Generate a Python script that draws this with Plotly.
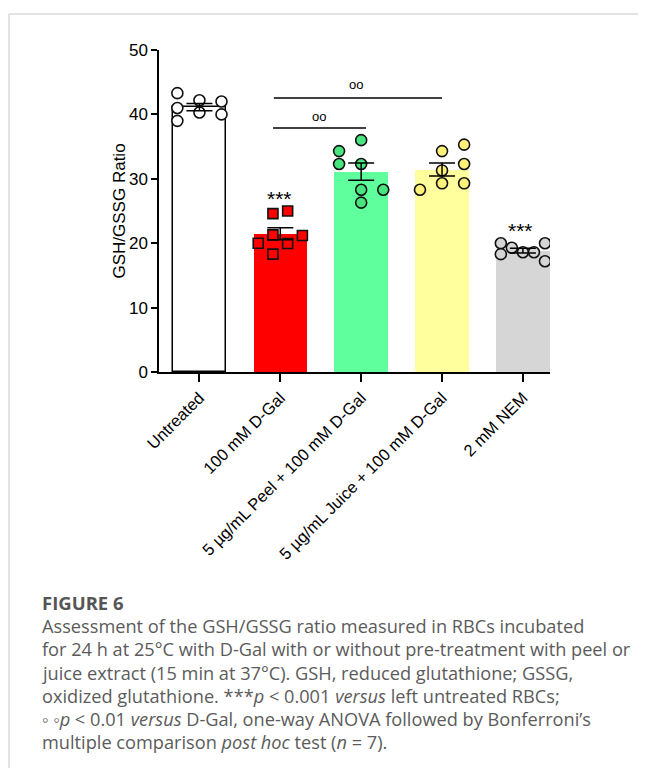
import plotly.graph_objects as go
import numpy as np

# ---- data ----
categories = ["Untreated", "100 mM D-Gal", "5 µg/mL Peel + 100 mM D-Gal",
              "5 µg/mL Juice + 100 mM D-Gal", "2 mM NEM"]
untreated = [43.3, 41.0, 39.0, 42.2, 40.3, 42.0, 40.0]
dgal = [24.6, 25.0, 21.3, 21.2, 20.0, 19.95, 18.3]
peel = [34.3, 36.0, 32.3, 32.3, 28.3, 28.3, 26.3]
juice = [34.3, 35.3, 31.3, 32.3, 28.3, 29.3, 29.3]
nem = [20.0, 18.3, 19.3, 18.6, 18.6, 20.0, 17.2]
y_ticks = [0, 10, 20, 30, 40, 50]

groups = [untreated, dgal, peel, juice, nem]
# beeswarm slot indices (horizontal layout of points)
slots = [[-6, -6, -6, 0, 0, 6, 6],
         [-2, 2, -2, 6, -6, 2, -2],
         [-6, 0, -6, 0, 0, 6, 0],
         [0, 6, 0, 6, -6, 0, 6],
         [-6, -6, -3, 0, 3, 6, 6]]
SLOT = 0.0455

bar_colors = ["#FFFFFF", "#FF0000", "#5EFF9C", "#FFFF9E", "#D6D6D6"]
pt_colors = ["#FFFFFF", "#FF0000", "#48E47E", "#FFF27A", "#D6D6D6"]
symbols = ["circle", "square", "circle", "circle", "circle"]

means = [float(np.mean(g)) for g in groups]
sems = [float(np.std(g, ddof=1) / np.sqrt(len(g))) for g in groups]
xs = list(range(len(categories)))

fig = go.Figure()
fig.add_trace(go.Bar(
    x=xs, y=means, width=0.66,
    marker=dict(color=bar_colors, line=dict(color="black", width=[1.5, 0, 0, 0, 0])),
    showlegend=False, hoverinfo="skip"))

for i, g in enumerate(groups):
    fig.add_trace(go.Scatter(
        x=[i + s * SLOT for s in slots[i]], y=g, mode="markers",
        marker=dict(symbol=symbols[i], size=11 if symbols[i] == "circle" else 10,
                    color=pt_colors[i], line=dict(color="#111111", width=1.6)),
        showlegend=False))

fig.add_trace(go.Scatter(
    x=xs, y=means, mode="markers", marker=dict(size=0.1, color="rgba(0,0,0,0)"),
    error_y=dict(type="data", array=sems, visible=True, color="black",
                 thickness=1.5, width=13),
    showlegend=False))

# ---- geometry helpers (page pixels -> paper); page has an 8px body margin ----
OFF = 8
W, H = 646 - 2 * OFF, 776 - 2 * OFF
L, T = 159 - OFF, 50 - OFF
PW, PH = 391, 322
R, B = W - L - PW, H - T - PH


def px(x):
    return (x - OFF - L) / PW


def py(y):
    return (OFF + T + PH - y) / PH


AX = "Liberation Sans, Arial"
anns = []
# significance markers
anns.append(dict(x=0.985, y=26.9, xref="x", yref="y", text="***", showarrow=False,
                 font=dict(family=AX, size=21, color="black")))
anns.append(dict(x=3.97, y=22.0, xref="x", yref="y", text="***", showarrow=False,
                 font=dict(family=AX, size=21, color="black")))
anns.append(dict(x=1.48, y=39.6, xref="x", yref="y", text="oo", showarrow=False,
                 font=dict(family=AX, size=13, color="black")))
anns.append(dict(x=1.93, y=44.7, xref="x", yref="y", text="oo", showarrow=False,
                 font=dict(family=AX, size=13, color="black")))
# y-axis title
anns.append(dict(x=px(107), y=0.5, xref="paper", yref="paper", text="GSH/GSSG Ratio",
                 textangle=-90, showarrow=False,
                 font=dict(family=AX, size=17, color="black")))

# caption
cap_font = dict(family="Open Sans", size=18.2, color="#5b5b5b")
anns.append(dict(x=px(40), y=py(602), xref="paper", yref="paper", xanchor="left",
                 yanchor="middle", text="<b>FIGURE 6</b>", showarrow=False,
                 font=dict(family="Open Sans", size=18.5, color="#555555")))
cap_lines = [
    "Assessment of the GSH/GSSG ratio measured in RBCs incubated",
    "for 24 h at 25°C with D-Gal with or without pre-treatment with peel or",
    "juice extract (15 min at 37°C). GSH, reduced glutathione; GSSG,",
    "oxidized glutathione. ***<i>p</i> &lt; 0.001 <i>versus</i> left untreated RBCs;",
    "◦ ◦<i>p</i> &lt; 0.01 <i>versus</i> D-Gal, one-way ANOVA followed by Bonferroni’s",
    "multiple comparison <i>post hoc</i> test (<i>n</i> = 7).",
]
for k, line in enumerate(cap_lines):
    anns.append(dict(x=px(40), y=py(626 + 23.3 * k), xref="paper", yref="paper",
                     xanchor="left", yanchor="middle", text=line, showarrow=False,
                     font=cap_font))

shapes = [
    dict(type="line", xref="x", yref="y", x0=0.91, x1=2.06, y0=37.9, y1=37.9,
         line=dict(color="black", width=1.5)),
    dict(type="line", xref="x", yref="y", x0=0.92, x1=3.0, y0=42.55, y1=42.55,
         line=dict(color="black", width=1.5)),
    dict(type="line", xref="paper", yref="paper", x0=px(9), x1=px(9), y0=py(14), y1=py(768),
         line=dict(color="#c8c8c8", width=1)),
    dict(type="line", xref="paper", yref="paper", x0=px(9), x1=px(638), y0=py(14), y1=py(14),
         line=dict(color="#c8c8c8", width=1)),
]

fig.update_layout(
    width=W, height=H, margin=dict(l=L, r=R, t=T, b=B, pad=0),
    paper_bgcolor="white", plot_bgcolor="white",
    annotations=anns, shapes=shapes, bargap=0,
    xaxis=dict(range=[-0.5, 4.335], tickvals=xs, ticktext=categories, tickangle=-45,
               showline=True, linecolor="black", linewidth=1.5, ticks="outside",
               ticklen=8, tickwidth=1.5, tickcolor="black", showgrid=False,
               zeroline=False, tickfont=dict(family=AX, size=16.5, color="black")),
    yaxis=dict(range=[0, 50], tickvals=y_ticks, showline=True, linecolor="black",
               linewidth=1.5, ticks="outside", ticklen=6, tickwidth=1.5,
               tickcolor="black", showgrid=False, zeroline=False,
               tickfont=dict(family=AX, size=17, color="black")),
)

fig.write_html("out.html")
